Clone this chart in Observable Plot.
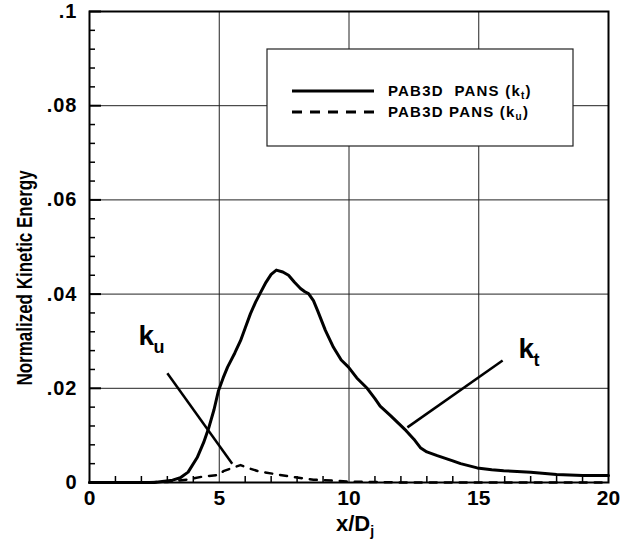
<!DOCTYPE html>
<html><head><meta charset="utf-8">
<script src="https://cdn.jsdelivr.net/npm/d3@7"></script>
<script src="https://cdn.jsdelivr.net/npm/@observablehq/plot@0.6"></script>
<style>
body{margin:0;background:#fff;}
svg text{font-family:"Liberation Sans",Arial,sans-serif;font-weight:bold;}
</style>
</head><body><div id="chart"></div>
<script>
// k_t (solid) series
const ktX = [0, 2.5, 2.8, 3.2, 3.5, 3.8, 4.15, 4.4, 4.59, 4.8, 4.97, 5.15, 5.32, 5.6, 5.82, 6.0, 6.2, 6.4, 6.56, 6.8, 7.0, 7.2, 7.45, 7.67, 7.9, 8.13, 8.3, 8.44, 8.63, 8.79, 9.09, 9.4, 9.7, 9.98, 10.3, 10.7, 11.0, 11.2, 11.6, 12.2, 12.5, 12.75, 13.0, 13.4, 14.0, 14.3, 14.94, 15.5, 15.96, 17.0, 18.0, 19.0, 20.0];
const ktY = [0, 0, 0.0002, 0.0005, 0.001, 0.0022, 0.0053, 0.0085, 0.0115, 0.0155, 0.0195, 0.0222, 0.0245, 0.0275, 0.0301, 0.0328, 0.0358, 0.0383, 0.040, 0.0425, 0.0442, 0.0451, 0.0447, 0.044, 0.0425, 0.0412, 0.0405, 0.0401, 0.0386, 0.0365, 0.0323, 0.0287, 0.026, 0.0245, 0.0222, 0.020, 0.0178, 0.0162, 0.0142, 0.011, 0.0092, 0.0074, 0.0065, 0.0057, 0.0046, 0.004, 0.0031, 0.0027, 0.0025, 0.0022, 0.0017, 0.0015, 0.0015];
// k_u (dashed) series
const kuX = [0, 3.0, 3.76, 4.4, 5.0, 5.16, 5.5, 5.82, 6.1, 6.5, 7.23, 7.94, 8.63, 9.35, 10, 11, 12, 20];
const kuY = [0, 0.0001, 0.0006, 0.0013, 0.0016, 0.0024, 0.0031, 0.0037, 0.0031, 0.0024, 0.0017, 0.0011, 0.0006, 0.0004, 0.0002, 0.0001, 0, 0];

const xTicks = [0, 5, 10, 15, 20];
const xMinor = [1,2,3,4,6,7,8,9,11,12,13,14,16,17,18,19];
const yTicks = [0, 0.02, 0.04, 0.06, 0.08, 0.1];
const yMinor = [0.004,0.008,0.012,0.016,0.024,0.028,0.032,0.036,0.044,0.048,0.052,0.056,0.064,0.068,0.072,0.076,0.084,0.088,0.092,0.096];
const yTickLabels = ["0", ".02", ".04", ".06", ".08", ".1"];

const legendLabels = [["PAB3D  PANS (k", "t", ")"], ["PAB3D PANS (k", "u", ")"]];
const annoLabels = [{x: 1.89, y: 0.0291, sub: "u"}, {x: 16.53, y: 0.0265, sub: "t"}];
const annoLines = [{x1: 3.0, y1: 0.0232, x2: 5.5, y2: 0.0040}, {x1: 12.25, y1: 0.0117, x2: 15.92, y2: 0.0259}];

const kt = ktX.map((x, i) => ({x, y: ktY[i]}));
const ku = kuX.map((x, i) => ({x, y: kuY[i]}));

const W = 644, H = 549, mL = 89, mR = 36, mT = 11, mB = 67;
const plotW = W - mL - mR, plotH = H - mT - mB;
const xDom = [0, 20], yDom = [0, 0.1];
// tick lengths (pixels) converted into data units
const pxX = (xDom[1] - xDom[0]) / plotW, pxY = (yDom[1] - yDom[0]) / plotH;

const chart = Plot.plot({
  width: W, height: H,
  marginLeft: mL, marginRight: mR, marginTop: mT, marginBottom: mB,
  x: {domain: xDom},
  y: {domain: yDom},
  style: {fontFamily: "Liberation Sans, Arial, sans-serif", fontWeight: "bold", background: "#fff"},
  marks: [
    Plot.gridX([5, 10, 15], {stroke: "#222", strokeOpacity: 1, strokeWidth: 1}),
    Plot.gridY([0.02, 0.04, 0.06, 0.08], {stroke: "#222", strokeOpacity: 1, strokeWidth: 1}),
    Plot.ruleX(xMinor, {x: d => d, y1: yDom[0], y2: yDom[0] + 6 * pxY, stroke: "black", strokeWidth: 1.5}),
    Plot.ruleY(yMinor, {y: d => d, x1: xDom[0], x2: xDom[0] + 6 * pxX, stroke: "black", strokeWidth: 1.5}),
    Plot.ruleY(yTicks, {y: d => d, x1: xDom[0], x2: xDom[0] + 12 * pxX, stroke: "black", strokeWidth: 2}),
    Plot.axisY(yTicks, {tickSize: 0, tickFormat: (d, i) => yTickLabels[i], tickPadding: 12, fontSize: 20, label: null}),
    Plot.axisX(xTicks, {tickSize: 0, tickPadding: 8, fontSize: 21, label: null}),
    Plot.line(ku, {x: "x", y: "y", stroke: "black", strokeWidth: 2.5, strokeDasharray: "7,8"}),
    Plot.line(kt, {x: "x", y: "y", stroke: "black", strokeWidth: 3}),
    Plot.link(annoLines, {x1: "x1", y1: "y1", x2: "x2", y2: "y2", stroke: "black", strokeWidth: 2.5}),
    Plot.text(annoLabels, {x: "x", y: "y", text: () => "k", fontSize: 28, textAnchor: "start", lineAnchor: "bottom"}),
    Plot.text(annoLabels, {x: "x", y: "y", text: "sub", fontSize: 18, textAnchor: "start", lineAnchor: "bottom", dx: 15, dy: 8}),
    Plot.frame({stroke: "black", strokeWidth: 2})
  ]
});
document.getElementById("chart").appendChild(chart);

const svg = d3.select(chart);
svg.selectAll("[aria-label='y-axis tick label'] text").attr("letter-spacing", 1);
// axis labels
const xl = svg.append("text").attr("x", 355).attr("y", 531).attr("text-anchor", "middle")
  .attr("font-size", 22).attr("fill", "black");
xl.append("tspan").text("x/D");
xl.append("tspan").attr("font-size", 14).attr("dy", 5).text("j");
svg.append("text").attr("transform", "translate(32,278) rotate(-90) scale(1,1.3)").attr("text-anchor", "middle")
  .attr("font-size", 17).attr("fill", "black").text("Normalized Kinetic Energy");

// legend
const lg = svg.append("g");
lg.append("rect").attr("x", 267).attr("y", 49).attr("width", 306).attr("height", 97)
  .attr("fill", "white").attr("stroke", "#222").attr("stroke-width", 1.2);
[0, 1].forEach(i => {
  const yy = 91 + i * 21;
  lg.append("line").attr("x1", 292).attr("x2", 374).attr("y1", yy).attr("y2", yy)
    .attr("stroke", "black").attr("stroke-width", 3)
    .attr("stroke-dasharray", i ? "10,8" : null);
  const t = lg.append("text").attr("x", 388).attr("y", yy + 5).attr("font-size", 15)
    .attr("text-anchor", "start").attr("letter-spacing", 1.2).attr("fill", "black");
  t.append("tspan").text(legendLabels[i][0]);
  t.append("tspan").attr("font-size", 10).attr("dy", 3).text(legendLabels[i][1]);
  t.append("tspan").attr("dy", -3).text(legendLabels[i][2]);
});
</script>
</body></html>
